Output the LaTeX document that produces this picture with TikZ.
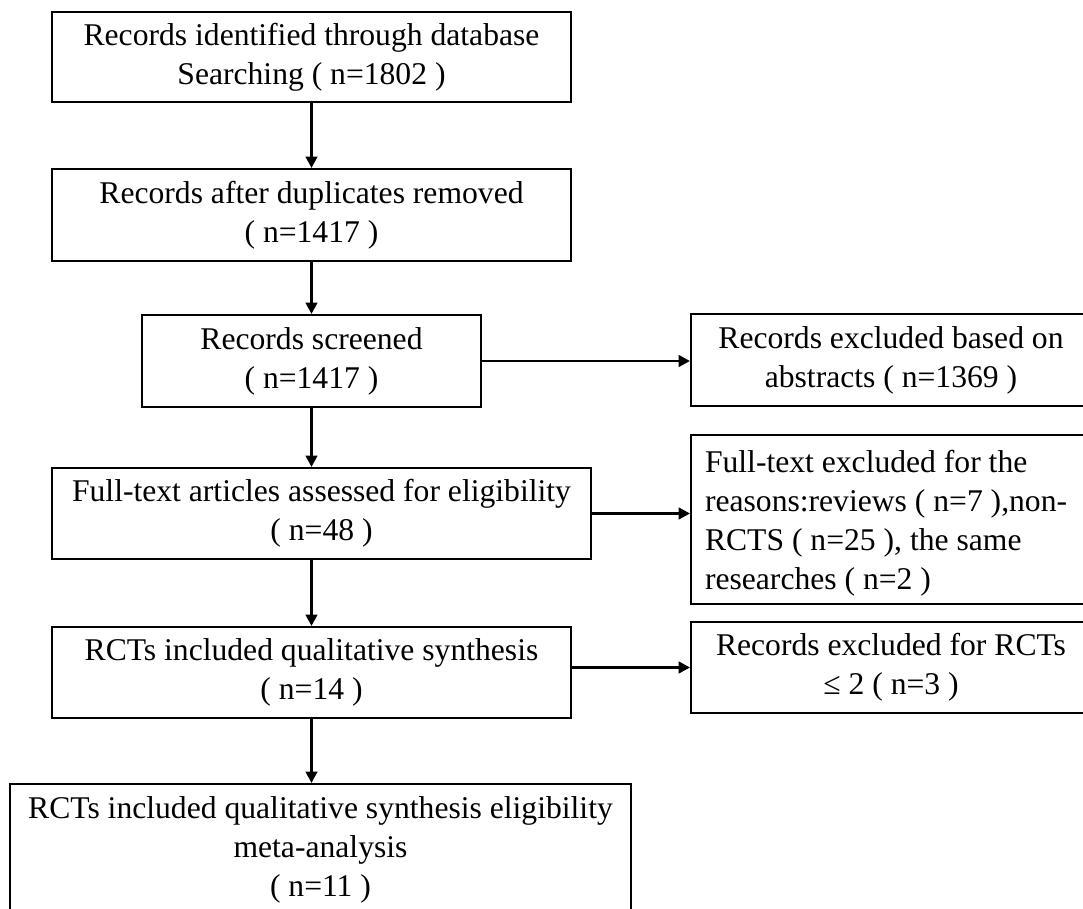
\documentclass[tikz,border=0pt]{standalone}
\usepackage{fontspec}
\setmainfont{Liberation Serif}
\usetikzlibrary{arrows.meta}

\begin{document}
\begin{tikzpicture}[x=0.02cm,y=-0.02cm,
  box/.style={draw=black,line width=1.1pt,align=center,inner sep=0pt,font=\fontsize{18}{22.2}\selectfont,
    execute at begin node={\rule{0pt}{17.3pt}}},
  flow/.style={line width=1.7pt,-{Triangle[length=6.5pt,width=6.5pt]}}]
  \clip (0,0) rectangle (1083,909);
  % main column
  \node[box,minimum width=10.38cm,minimum height=1.8cm] (ident) at (311.5,57) {Records identified through database\\Searching ( n=1802 )};
  \node[box,minimum width=10.38cm,minimum height=1.84cm] (dupl) at (311.5,215) {Records after duplicates removed\\( n=1417 )};
  \node[box,minimum width=6.78cm,minimum height=1.84cm] (screen) at (311.5,361) {Records screened\\( n=1417 )};
  \node[box,minimum width=10.78cm,minimum height=1.82cm] (full) at (321.5,513.5) {Full-text articles assessed for eligibility\\( n=48 )};
  \node[box,minimum width=10.38cm,minimum height=1.82cm] (qual) at (311.5,672.5) {RCTs included qualitative synthesis\\( n=14 )};
  \node[box,minimum width=12.42cm,minimum height=2.64cm] (meta) at (320.5,850) {RCTs included qualitative synthesis eligibility\\meta-analysis\\( n=11 )};
  % exclusions
  \node[box,minimum width=8cm,minimum height=1.84cm] (exabs) at (891,360) {Records excluded based on\\abstracts ( n=1369 )};
  \node[box,align=flush left,inner xsep=0.28cm,text width=7.44cm,minimum height=3.38cm] (exfull) at (891,519.5) {Full-text excluded for the\\reasons:reviews ( n=7 ),non-\\RCTS ( n=25 ), the same\\researches ( n=2 )};
  \node[box,minimum width=8cm,minimum height=1.82cm] (exrct) at (891,667.5) {Records excluded for RCTs\\≤ 2 ( n=3 )};
  % arrows
  \draw[flow] (ident) -- (dupl);
  \draw[flow] (dupl) -- (screen);
  \draw[flow] (screen.south) -- (screen.south |- full.north);
  \draw[flow] (qual.north |- full.south) -- (qual.north);
  \draw[flow] (qual.south) -- (qual.south |- meta.north);
  \draw[flow] (screen.east) -- (screen.east -| exabs.west);
  \draw[flow] (full.east) -- (full.east -| exfull.west);
  \draw[flow] (exrct.west -| qual.east) -- (exrct.west);
\end{tikzpicture}
\end{document}
